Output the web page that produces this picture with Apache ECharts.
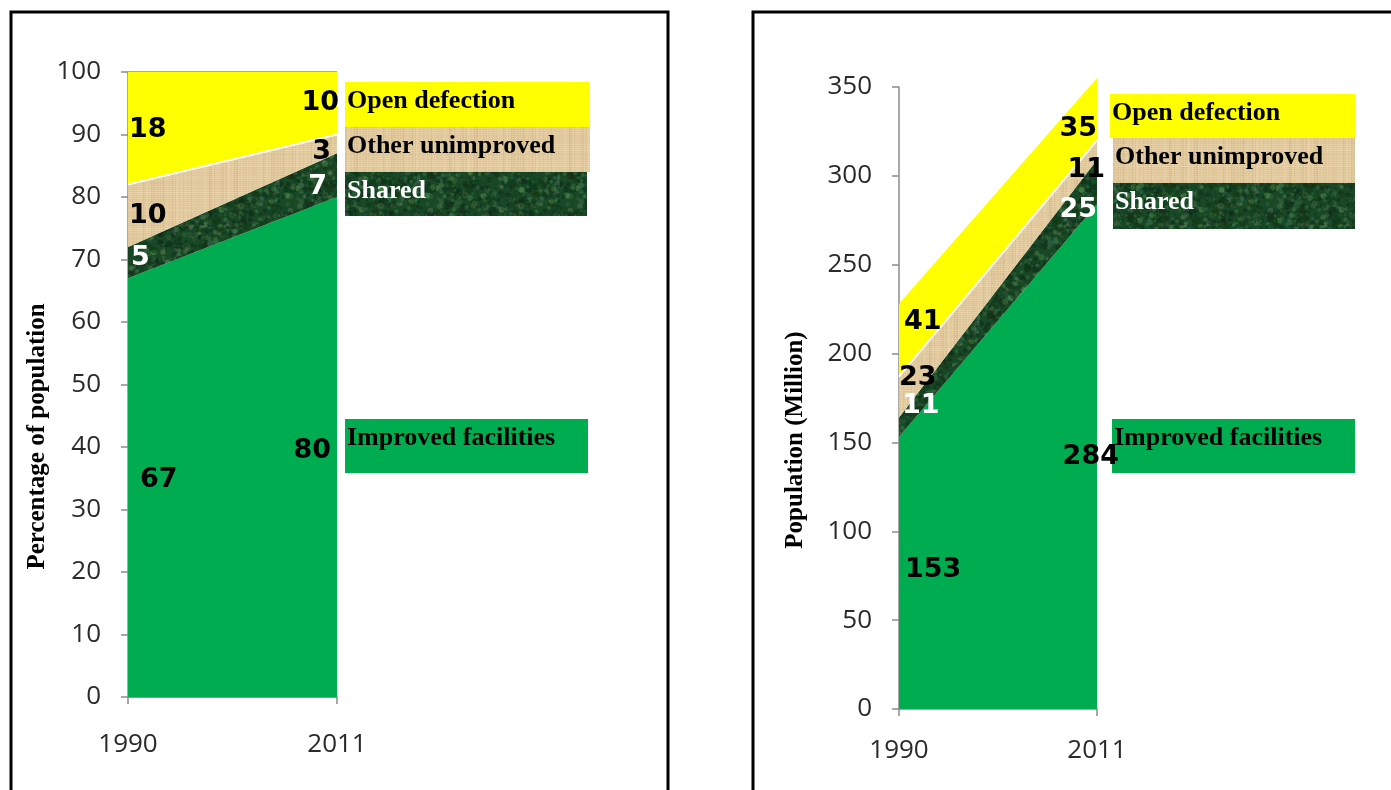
<!DOCTYPE html>
<html>
<head>
<meta charset="utf-8">
<script src="https://cdn.jsdelivr.net/npm/echarts@6/dist/echarts.min.js"></script>
<style>
  html, body { margin: 0; padding: 0; background: #fff; }
  #chart { width: 1391px; height: 790px; }
</style>
</head>
<body>
<div id="chart"></div>
<script>
// Sanitation coverage, 1990 vs 2011
const years = ['1990', '2011'];

// Percentage of population
const pctImproved = [67, 80];
const pctShared   = [5, 7];
const pctOther    = [10, 3];
const pctOpen     = [18, 10];

// Population (million)
const popImproved = [153, 284];
const popShared   = [11, 25];
const popOther    = [23, 11];
const popOpen     = [41, 35];

const pctTicks = { min: 0, max: 100, interval: 10 };
const popTicks = { min: 0, max: 350, interval: 50 };

const legendNames = ['Open defection', 'Other unimproved', 'Shared', 'Improved facilities'];

// ---- fill textures ----
function seeded(seed) {
  let s = seed >>> 0;
  return function () {
    s = (s + 0x6D2B79F5) >>> 0;
    let t = s;
    t = Math.imul(t ^ (t >>> 15), t | 1);
    t ^= t + Math.imul(t ^ (t >>> 7), t | 61);
    return ((t ^ (t >>> 14)) >>> 0) / 4294967296;
  };
}

function strawTexture() {
  const c = document.createElement('canvas');
  c.width = 120; c.height = 120;
  const g = c.getContext('2d');
  const r = seeded(11);
  g.fillStyle = 'rgb(234,210,166)';
  g.fillRect(0, 0, 120, 120);
  for (let x = 0; x < 120; x++) {
    const d = (r() - 0.5) * 34;
    g.fillStyle = `rgba(${205 + d},${175 + d},${125 + d},${0.2 + r() * 0.3})`;
    g.fillRect(x, 0, 1, 120);
  }
  for (let y = 0; y < 120; y += 2) {
    const d = (r() - 0.5) * 30;
    g.fillStyle = `rgba(${245 + d},${228 + d},${195 + d},${0.15 + r() * 0.2})`;
    g.fillRect(0, y, 120, 1);
  }
  return c;
}

function mossTexture() {
  const c = document.createElement('canvas');
  c.width = 140; c.height = 140;
  const g = c.getContext('2d');
  const r = seeded(7);
  g.fillStyle = 'rgb(24,72,38)';
  g.fillRect(0, 0, 140, 140);
  for (let i = 0; i < 1600; i++) {
    const x = r() * 140, y = r() * 140, rad = 0.6 + r() * 2.6;
    const light = r() > 0.6;
    g.fillStyle = light
      ? `rgba(${60 + r() * 50},${110 + r() * 45},${70 + r() * 35},${0.2 + r() * 0.3})`
      : `rgba(${8 + r() * 18},${40 + r() * 22},${18 + r() * 14},${0.3 + r() * 0.4})`;
    g.beginPath();
    g.arc(x, y, rad, 0, Math.PI * 2);
    g.fill();
  }
  return c;
}

const strawFill = { image: strawTexture(), repeat: 'repeat' };
const mossFill  = { image: mossTexture(),  repeat: 'repeat' };
const yellow = '#FFFF00';
const green  = '#00AC50';

// ---- helpers ----
const tickFont = { fontFamily: 'Open Sans', fontSize: 26, color: '#2a2a2a' };

function stackSeries(idx, arrays, clip) {
  const fills = [green, mossFill, strawFill, yellow];
  const names = ['Improved facilities', 'Shared', 'Other unimproved', 'Open defection'];
  return arrays.map((arr, i) => ({
    name: names[i],
    type: 'line',
    xAxisIndex: idx,
    yAxisIndex: idx,
    stack: 'cov' + idx,
    data: arr,
    symbol: 'none',
    clip: clip,
    silent: true,
    lineStyle: i === 2 ? { color: '#ffffff', width: 2 } : { width: 0 },
    areaStyle: { color: fills[i], opacity: 1 },
    z: 2
  }));
}

// Value labels sit in the middle of each band at either end.
function bandLabels(idx, arrays, layout) {
  const colors = ['#000', '#fff', '#000', '#000'];
  const data = [];
  for (let j = 0; j < 2; j++) {
    let base = 0;
    arrays.forEach((arr, i) => {
      const v = arr[j];
      data.push({
        value: [j, base + v / 2, v],
        label: {
          position: j === 0 ? 'right' : 'left',
          distance: 0,
          offset: layout[i][j],
          color: colors[i]
        }
      });
      base += v;
    });
  }
  return {
    type: 'scatter',
    xAxisIndex: idx,
    yAxisIndex: idx,
    data: data,
    symbolSize: 0.1,
    itemStyle: { color: 'rgba(0,0,0,0)', opacity: 1 },
    silent: true,
    z: 10,
    label: {
      show: true,
      formatter: p => String(p.value[2]),
      fontFamily: 'DejaVu Sans',
      fontWeight: 'bold',
      fontSize: 27,
      opacity: 1,
      textBorderWidth: 0
    }
  };
}

// [dx, dy] nudges per band (improved, shared, other, open) for 1990 and 2011
const pctLabelNudge = [
  [[12, -8], [-6, 4]],
  [[3, -5], [-10, 12]],
  [[1, 0], [-6, 8]],
  [[1, 2], [2, 0]]
];
const popLabelNudge = [
  [[6, -3], [22, 0]],
  [[3, -21], [0, 28]],
  [[0, -19], [8, 20]],
  [[5, -18], [0, 20]]
];

function legendBlock(x, tops, heights, widths, improvedTop) {
  const fills = [yellow, strawFill, mossFill, green];
  const textColors = ['#000', '#000', '#fff', '#000'];
  const out = [];
  const ys = [tops[0], tops[1], tops[2], improvedTop];
  legendNames.forEach((name, i) => {
    out.push({
      type: 'rect',
      shape: { x: x[i], y: ys[i], width: widths[i], height: heights[i] },
      style: { fill: fills[i] },
      silent: true
    });
    out.push({
      type: 'text',
      style: {
        x: x[i] + 2,
        y: ys[i] + 19,
        text: name,
        fill: textColors[i],
        font: 'bold 26px "Liberation Serif"',
        verticalAlign: 'middle',
        align: 'left'
      },
      silent: true,
      z: 5
    });
  });
  return out;
}

const pctArrays = [pctImproved, pctShared, pctOther, pctOpen];
const popArrays = [popImproved, popShared, popOther, popOpen];

const chart = echarts.init(document.getElementById('chart'), null, { renderer: 'canvas' });

chart.setOption({
  backgroundColor: '#ffffff',
  animation: false,
  grid: [
    { left: 128, top: 72, width: 209, height: 625 },
    { left: 899, top: 87, width: 198, height: 622 }
  ],
  xAxis: [
    {
      gridIndex: 0, type: 'category', data: years, boundaryGap: false,
      axisLine: { lineStyle: { color: '#8c8c8c', width: 1.5 } },
      axisTick: { show: true, length: 7, lineStyle: { color: '#8c8c8c', width: 1.5 } },
      axisLabel: Object.assign({ margin: 35 }, tickFont),
      splitLine: { show: false }
    },
    {
      gridIndex: 1, type: 'category', data: years, boundaryGap: false,
      axisLine: { lineStyle: { color: '#8c8c8c', width: 1.5 } },
      axisTick: { show: true, length: 7, lineStyle: { color: '#8c8c8c', width: 1.5 } },
      axisLabel: Object.assign({ margin: 29 }, tickFont),
      splitLine: { show: false }
    }
  ],
  yAxis: [
    {
      gridIndex: 0, type: 'value',
      min: pctTicks.min, max: pctTicks.max, interval: pctTicks.interval,
      axisLine: { show: true, lineStyle: { color: '#8c8c8c', width: 1.5 } },
      axisTick: { show: true, length: 7, lineStyle: { color: '#8c8c8c', width: 1.5 } },
      axisLabel: Object.assign({ margin: 27 }, tickFont),
      splitLine: { show: true, lineStyle: { color: '#8c8c8c', width: 1.5 } },
      name: 'Percentage of population',
      nameLocation: 'middle',
      nameGap: 78,
      nameTextStyle: {
        fontFamily: 'Liberation Serif', fontWeight: 'bold', fontSize: 25, color: '#000',
        padding: [0, 104, 0, 0]
      }
    },
    {
      gridIndex: 1, type: 'value',
      min: popTicks.min, max: popTicks.max, interval: popTicks.interval,
      axisLine: { show: true, lineStyle: { color: '#8c8c8c', width: 1.5 } },
      axisTick: { show: true, length: 7, lineStyle: { color: '#8c8c8c', width: 1.5 } },
      axisLabel: Object.assign({ margin: 27 }, tickFont),
      splitLine: { show: false },
      name: 'Population (Million)',
      nameLocation: 'middle',
      nameGap: 91,
      nameTextStyle: {
        fontFamily: 'Liberation Serif', fontWeight: 'bold', fontSize: 25, color: '#000',
        padding: [0, 84, 0, 0]
      }
    }
  ],
  series: [
    ...stackSeries(0, pctArrays, true),
    bandLabels(0, pctArrays, pctLabelNudge),
    ...stackSeries(1, popArrays, false),
    bandLabels(1, popArrays, popLabelNudge)
  ],
  graphic: [
    // panel frames
    { type: 'rect', shape: { x: 11, y: 12, width: 657, height: 800 },
      style: { fill: 'none', stroke: '#000', lineWidth: 3 }, silent: true },
    { type: 'rect', shape: { x: 753, y: 12, width: 700, height: 800 },
      style: { fill: 'none', stroke: '#000', lineWidth: 3 }, silent: true },
    ...legendBlock([345, 345, 345, 345], [82, 127, 172], [45, 45, 44, 54], [245, 245, 242, 243], 419),
    ...legendBlock([1110, 1113, 1113, 1112], [94, 138, 183], [44, 45, 46, 54], [245, 242, 242, 243], 419)
  ]
});
</script>
</body>
</html>
